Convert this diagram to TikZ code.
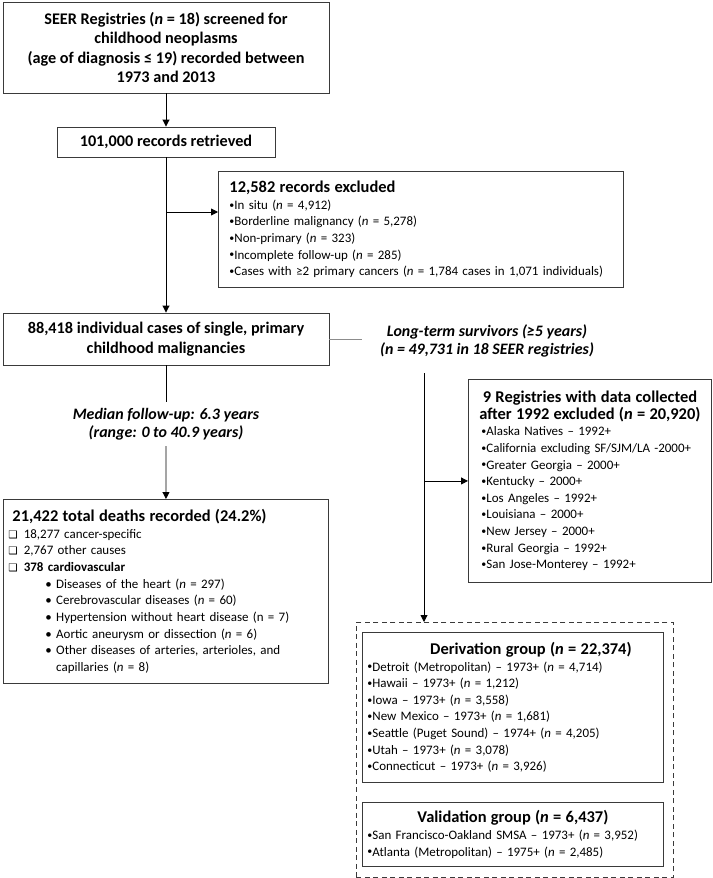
\documentclass[tikz,border=0pt]{standalone}
\usepackage{fontspec}
\setmainfont{Carlito}
\newfontfamily\symfont{DejaVu Sans}
\usetikzlibrary{arrows.meta,positioning,calc}
\definecolor{edge}{HTML}{3A3A3A}
\definecolor{conn}{HTML}{8C8C8C}
\newcommand{\nn}{\textit{n}}
\newcommand{\hd}[1]{{\fontsize{16.5}{19.5}\selectfont\bfseries #1}}
\newcommand{\ck}{{\symfont\fontsize{10.5}{12}\selectfont ❑}\hspace{6bp}}
\newcommand{\bl}{{\fontsize{10}{10}\selectfont\raisebox{1.2bp}{•}}}
\newcommand{\ctr}[2]{\makebox[#1]{#2}}
\tikzset{
  box/.style={draw=edge,line width=0.9bp,align=center,inner sep=0pt,font=\fontsize{16.3}{19.6}\selectfont\bfseries},
  lbox/.style={draw=edge,line width=0.9bp,align=left,inner ysep=0pt,font=\fontsize{13}{16.7}\selectfont,anchor=north west},
  note/.style={align=center,inner xsep=0pt,inner ysep=6bp,font=\fontsize{16}{18}\selectfont\bfseries\itshape},
  ar/.style={-{Triangle[length=7bp,width=7bp]},line width=0.9bp},
  ln/.style={line width=0.9bp},
  gln/.style={ln,draw=conn},
  grp/.style={draw=edge,line width=0.9bp,dash pattern=on 5bp off 3.5bp,anchor=north west,inner sep=0pt},
}

\begin{document}
\begin{tikzpicture}[x=1bp,y=-1bp]
\useasboundingbox (0,0) rectangle (713,878);
% left column
\node[box,minimum width=326bp,minimum height=91bp] (seer) at (166,47.5)
  {SEER Registries (\nn{} = 18) screened for\\childhood neoplasms\\(age of diagnosis ≤ 19) recorded between\\1973 and 2013};
\node[box,minimum width=218bp,minimum height=30bp] (retr) at (166,142) {101,000 records retrieved};
\node[lbox,text width=383bp,inner xsep=11bp,minimum height=116bp] (excl) at (218,171)
  {\hd{12,582 records excluded}\\
   \bl In situ (\nn{} = 4,912)\\
   \bl Borderline malignancy (\nn{} = 5,278)\\
   \bl Non-primary (\nn{} = 323)\\
   \bl Incomplete follow-up (\nn{} = 285)\\
   \mbox{\bl Cases with ≥2 primary cancers (\nn{} = 1,784 cases in 1,071 individuals)}};
\node[box,minimum width=326bp,minimum height=52bp] (single) at (166,339)
  {88,418 individual cases of single, primary\\childhood malignancies};
\node[note] (med) at (166,424) {Median follow-up: 6.3 years\\(range: 0 to 40.9 years)};
\node[lbox,text width=315bp,inner xsep=5bp,minimum height=184bp] (deaths) at (3,499)
  {\hspace*{4bp}\hd{21,422 total deaths recorded (24.2\%)}\\
   \ck 18,277 cancer-specific\\
   \ck 2,767 other causes\\
   \ck\textbf{378 cardiovascular}\\
   \hspace*{37bp}•\ Diseases of the heart (\nn{} = 297)\\
   \hspace*{37bp}•\ Cerebrovascular diseases (\nn{} = 60)\\
   \hspace*{37bp}•\ Hypertension without heart disease (n = 7)\\
   \hspace*{37bp}•\ Aortic aneurysm or dissection (\nn{} = 6)\\
   \hspace*{37bp}•\ Other diseases of arteries, arterioles, and\\
   \hspace*{37bp}\phantom{•\ }capillaries (\nn{} = 8)};
% right column
\node[note] (surv) at (487,341) {Long-term survivors (≥5 years)\\(\nn{} = 49,731 in 18 SEER registries)};
\coordinate (sj) at (362,339);
\coordinate (vt) at (424,373);
\node[lbox,text width=217bp,inner xsep=13bp,minimum height=203bp] (reg) at (468,379)
  {\ctr{217bp}{\hd{9 Registries with data collected}}\\
   \ctr{217bp}{\hd{after 1992 excluded (\nn{} = 20,920)}}\\
   \bl Alaska Natives – 1992+\\
   \mbox{\bl California excluding SF/SJM/LA -2000+}\\
   \bl Greater Georgia – 2000+\\
   \bl Kentucky – 2000+\\
   \bl Los Angeles – 1992+\\
   \bl Louisiana – 2000+\\
   \bl New Jersey – 2000+\\
   \bl Rural Georgia – 1992+\\
   \bl San Jose-Monterey – 1992+};
\node[grp,minimum width=317bp,minimum height=255bp] (grp) at (356,622) {};
\node[lbox,text width=291bp,inner xsep=5bp,minimum height=150bp] (deriv) at (362,632)
  {\ctr{291bp}{\hspace*{36bp}\hd{Derivation group (\nn{} = 22,374)}}\\
   \bl Detroit (Metropolitan) – 1973+ (\nn{} = 4,714)\\
   \bl Hawaii – 1973+ (\nn{} = 1,212)\\
   \bl Iowa – 1973+ (\nn{} = 3,558)\\
   \bl New Mexico – 1973+ (\nn{} = 1,681)\\
   \bl Seattle (Puget Sound) – 1974+ (\nn{} = 4,205)\\
   \bl Utah – 1973+ (\nn{} = 3,078)\\
   \bl Connecticut – 1973+ (\nn{} = 3,926)};
\node[lbox,text width=291bp,inner xsep=5bp,minimum height=64bp] (valid) at (362,802)
  {\ctr{291bp}{\hd{Validation group (\nn{} = 6,437)}}\\
   \mbox{\bl San Francisco-Oakland SMSA – 1973+ (\nn{} = 3,952)}\\
   \bl Atlanta (Metropolitan) – 1975+ (\nn{} = 2,485)};
% connectors
\coordinate (ej) at (166,212);
\draw[ar] (seer) -- (retr);
\draw[ar] (retr) -- (single);
\draw[ar] (ej) -- (ej -| excl.west);
\draw[gln] (single.east) -- (sj);
\draw[ln] (single) -- (med);
\draw[ar] (med) -- (deaths);
\draw[ar] (vt) -- (vt |- grp.north);
\draw[ar] (vt |- reg.west) -- (reg.west);
\end{tikzpicture}
\end{document}
